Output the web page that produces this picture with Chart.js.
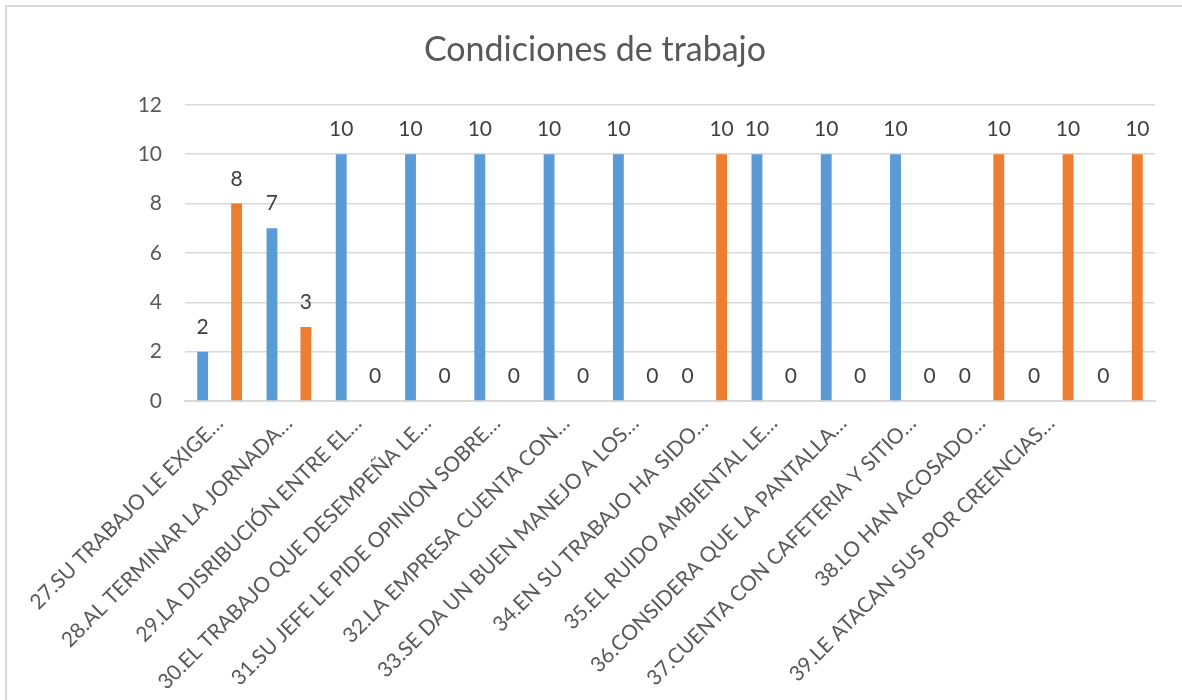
<!DOCTYPE html>
<html>
<head>
<meta charset="utf-8">
<script src="https://cdn.jsdelivr.net/npm/chart.js@4/dist/chart.umd.min.js"></script>
<style>
  html, body { margin: 0; padding: 0; background: #fff; overflow: hidden; }
  #wrap { position: relative; width: 1182px; height: 700px; }
  #frame {
    position: absolute; left: 5px; top: 5px; width: 1200px; height: 720px;
    border: 2px solid #d9d9d9; pointer-events: none;
  }
</style>
</head>
<body>
<div id="wrap">
  <canvas id="chart" width="1182" height="700"></canvas>
  <div id="frame"></div>
</div>
<script>
// --- Datos ---
const categorias = [
  "27.SU TRABAJO LE EXIGE…",
  "28.AL TERMINAR LA JORNADA…",
  "29.LA DISRIBUCIÓN ENTRE EL…",
  "30.EL TRABAJO QUE DESEMPEÑA LE…",
  "31.SU JEFE LE PIDE OPINION SOBRE…",
  "32.LA EMPRESA CUENTA CON…",
  "33.SE DA UN BUEN MANEJO A LOS…",
  "34.EN SU TRABAJO HA SIDO…",
  "35.EL RUIDO AMBIENTAL LE…",
  "36.CONSIDERA QUE LA PANTALLA…",
  "37.CUENTA CON CAFETERIA Y SITIO…",
  "38.LO HAN ACOSADO…",
  "39.LE ATACAN SUS POR CREENCIAS…",
  ""
];
const serieAzul = [2, 7, 10, 10, 10, 10, 10, 0, 10, 10, 10, 0, 0, 0];
const serieNaranja = [8, 3, 0, 0, 0, 0, 0, 10, 0, 0, 0, 10, 10, 10];
const ticksY = [0, 2, 4, 6, 8, 10, 12];

const FUENTE = "Lato, 'Open Sans', sans-serif";

// --- Etiquetas de datos encima de cada barra ---
const etiquetasDatos = {
  id: "etiquetasDatos",
  afterDatasetsDraw(chart) {
    const ctx = chart.ctx;
    ctx.save();
    ctx.font = "21px " + FUENTE;
    ctx.fillStyle = "#404040";
    ctx.textAlign = "center";
    ctx.textBaseline = "alphabetic";
    chart.data.datasets.forEach((ds, i) => {
      chart.getDatasetMeta(i).data.forEach((bar, j) => {
        ctx.fillText(String(ds.data[j]), bar.x, bar.y - 18);
      });
    });
    ctx.restore();
  }
};

const ctx = document.getElementById("chart").getContext("2d");
new Chart(ctx, {
  type: "bar",
  data: {
    labels: categorias,
    datasets: [
      { label: "Sí", data: serieAzul, backgroundColor: "#5B9BD5", barPercentage: 0.32, categoryPercentage: 0.98 },
      { label: "No", data: serieNaranja, backgroundColor: "#ED7D31", barPercentage: 0.32, categoryPercentage: 0.98 }
    ]
  },
  options: {
    responsive: false,
    animation: false,
    layout: { padding: { left: 35, right: 27, top: 12, bottom: 0 } },
    plugins: {
      legend: { display: false },
      tooltip: { enabled: false },
      title: {
        display: true,
        text: "Condiciones de trabajo",
        color: "#595959",
        font: { family: FUENTE, size: 34, weight: "normal" },
        padding: { top: 18, bottom: 34 }
      }
    },
    scales: {
      x: {
        grid: { display: false },
        border: { display: true, color: "#d9d9d9", width: 2 },
        ticks: {
          autoSkip: false,
          minRotation: 45,
          maxRotation: 45,
          padding: 2,
          color: "#595959",
          font: { family: FUENTE, size: 21 }
        },
        afterFit(scale) { scale.height = 299; }
      },
      y: {
        min: 0,
        max: 12,
        afterBuildTicks(scale) { scale.ticks = ticksY.map(v => ({ value: v })); },
        grid: { color: "#d9d9d9", lineWidth: 1.5, drawTicks: false },
        border: { display: false },
        ticks: {
          padding: 23,
          color: "#595959",
          font: { family: FUENTE, size: 21 }
        },
        afterFit(scale) { scale.width = 150; }
      }
    }
  },
  plugins: [etiquetasDatos]
});
</script>
</body>
</html>
